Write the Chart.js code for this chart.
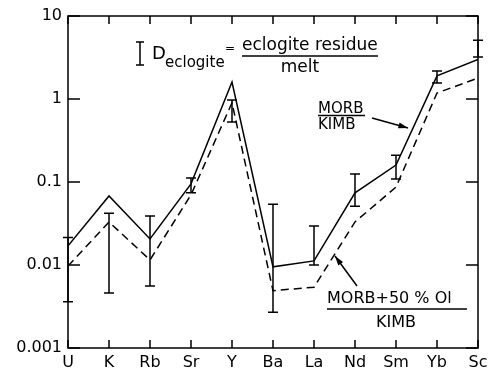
<!DOCTYPE html>
<html>
<head>
<meta charset="utf-8">
<script src="https://cdn.jsdelivr.net/npm/chart.js@4"></script>
<style>
  html, body { margin: 0; padding: 0; background: #fff; }
  #wrap { width: 493px; height: 375px; position: relative; }
</style>
</head>
<body>
<div id="wrap"><canvas id="grafico"></canvas></div>
<script>
// elementos (eje x) y valores
const elementos = ['U', 'K', 'Rb', 'Sr', 'Y', 'Ba', 'La', 'Nd', 'Sm', 'Yb', 'Sc'];
const morbKimb = [0.017, 0.068, 0.0206, 0.095, 1.6, 0.0095, 0.0112, 0.074, 0.16, 1.9, 3.0];
const morbOlKimb = [0.0097, 0.033, 0.0115, 0.07, 0.9, 0.0049, 0.0054, 0.033, 0.087, 1.18, 1.79];
// rango de D eclogita (barras)
const dMin = [0.0036, 0.0046, 0.0056, 0.074, 0.53, 0.0027, 0.01, 0.051, 0.109, 1.56, 3.2];
const dMax = [0.0215, 0.042, 0.039, 0.112, 0.97, 0.054, 0.0295, 0.125, 0.21, 2.17, 5.1];
const ticksY = [0.001, 0.01, 0.1, 1, 10];

const NEGRO = '#000';
Chart.defaults.font.family = '"DejaVu Sans", sans-serif';
Chart.defaults.color = NEGRO;

const aPuntos = arr => arr.map((v, i) => ({ x: i, y: v }));

// barras de error, marco y ticks hacia adentro
const marcoPlugin = {
    id: 'marco',
    afterDatasetsDraw(chart) {
        const { ctx, chartArea: a, scales } = chart;
        const sx = scales.x, sy = scales.y;
        ctx.save();
        ctx.strokeStyle = NEGRO;
        ctx.lineWidth = 1.5;
        ctx.strokeRect(a.left, a.top, a.right - a.left, a.bottom - a.top);

        ctx.beginPath();
        elementos.forEach((e, i) => {
            const x = sx.getPixelForValue(i);
            ctx.moveTo(x, a.top); ctx.lineTo(x, a.top + 8);
            ctx.moveTo(x, a.bottom); ctx.lineTo(x, a.bottom - 8);
        });
        ticksY.forEach(v => {
            const y = sy.getPixelForValue(v);
            ctx.moveTo(a.left, y); ctx.lineTo(a.left + 12, y);
            ctx.moveTo(a.right, y); ctx.lineTo(a.right - 12, y);
        });
        ctx.stroke();

        // barras D eclogite
        ctx.beginPath();
        dMin.forEach((lo, i) => {
            const x = sx.getPixelForValue(i);
            const y1 = sy.getPixelForValue(lo);
            const y2 = sy.getPixelForValue(dMax[i]);
            ctx.moveTo(x, y1); ctx.lineTo(x, y2);
            ctx.moveTo(x - 5, y1); ctx.lineTo(x + 5, y1);
            ctx.moveTo(x - 5, y2); ctx.lineTo(x + 5, y2);
        });
        ctx.stroke();
        ctx.restore();
    }
};

function flecha(ctx, x1, y1, x2, y2) {
    const ang = Math.atan2(y2 - y1, x2 - x1);
    ctx.beginPath();
    ctx.moveTo(x1, y1); ctx.lineTo(x2, y2);
    ctx.stroke();
    ctx.beginPath();
    ctx.moveTo(x2, y2);
    ctx.lineTo(x2 - 10 * Math.cos(ang - 0.3), y2 - 10 * Math.sin(ang - 0.3));
    ctx.lineTo(x2 - 10 * Math.cos(ang + 0.3), y2 - 10 * Math.sin(ang + 0.3));
    ctx.closePath();
    ctx.fill();
}

// textos y leyenda
const textosPlugin = {
    id: 'textos',
    afterDraw(chart) {
        const ctx = chart.ctx;
        ctx.save();
        ctx.fillStyle = NEGRO;
        ctx.strokeStyle = NEGRO;
        ctx.lineWidth = 1.5;
        ctx.textBaseline = 'alphabetic';

        // simbolo de barra
        ctx.beginPath();
        ctx.moveTo(140, 42); ctx.lineTo(140, 65);
        ctx.moveTo(136, 42); ctx.lineTo(144, 42);
        ctx.moveTo(136, 65); ctx.lineTo(144, 65);
        ctx.stroke();

        ctx.textAlign = 'left';
        ctx.font = '18px "DejaVu Sans"';
        ctx.fillText('D', 152, 59);
        ctx.font = '15px "DejaVu Sans"';
        ctx.fillText('eclogite', 165, 67);
        ctx.font = '12px "DejaVu Sans"';
        ctx.fillText('=', 225, 52);

        ctx.font = '17px "DejaVu Sans"';
        ctx.fillText('eclogite residue', 242, 50);
        ctx.textAlign = 'center';
        ctx.fillText('melt', 300, 72);
        ctx.beginPath();
        ctx.moveTo(242, 56); ctx.lineTo(378, 56);
        ctx.stroke();

        // MORB / KIMB
        ctx.font = '15px "DejaVu Sans"';
        ctx.textAlign = 'left';
        ctx.fillText('MORB', 318, 113);
        ctx.fillText('KIMB', 318, 129);
        ctx.beginPath();
        ctx.moveTo(318, 115.5); ctx.lineTo(365, 115.5);
        ctx.stroke();
        flecha(ctx, 372, 118, 408, 128);

        // MORB + 50 % Ol / KIMB
        ctx.font = '16px "DejaVu Sans"';
        ctx.fillText('MORB+50 % Ol', 327, 303);
        ctx.textAlign = 'center';
        ctx.fillText('KIMB', 396, 327);
        ctx.beginPath();
        ctx.moveTo(327, 309); ctx.lineTo(467, 309);
        ctx.stroke();
        flecha(ctx, 357, 286, 335, 256);

        ctx.restore();
    }
};

new Chart(document.getElementById('grafico'), {
    type: 'scatter',
    data: {
        datasets: [
            {
                label: 'MORB/KIMB',
                data: aPuntos(morbKimb),
                showLine: true,
                borderColor: NEGRO,
                borderWidth: 1.5,
                pointRadius: 0
            },
            {
                label: 'MORB+50% Ol/KIMB',
                data: aPuntos(morbOlKimb),
                showLine: true,
                borderColor: NEGRO,
                borderWidth: 1.5,
                borderDash: [8, 5],
                pointRadius: 0
            }
        ]
    },
    options: {
        responsive: true,
        maintainAspectRatio: false,
        animation: false,
        layout: { padding: { top: 16, right: 15, left: 0, bottom: 0 } },
        plugins: {
            legend: { display: false },
            tooltip: { enabled: false }
        },
        scales: {
            x: {
                type: 'linear',
                min: 0,
                max: elementos.length - 1,
                grid: { display: false, drawTicks: false },
                border: { display: false },
                afterFit: s => { s.height = 27; },
                afterBuildTicks: s => { s.ticks = elementos.map((e, i) => ({ value: i })); },
                ticks: {
                    autoSkip: false,
                    maxRotation: 0,
                    padding: 5,
                    font: { size: 16 },
                    callback: v => elementos[v]
                }
            },
            y: {
                type: 'logarithmic',
                min: 0.001,
                max: 10,
                grid: { display: false, drawTicks: false },
                border: { display: false },
                afterFit: s => { s.width = 68; },
                afterBuildTicks: s => { s.ticks = ticksY.map(v => ({ value: v })); },
                ticks: {
                    padding: 6,
                    font: { size: 16 },
                    callback: v => String(v)
                }
            }
        }
    },
    plugins: [marcoPlugin, textosPlugin]
});
</script>
</body>
</html>
